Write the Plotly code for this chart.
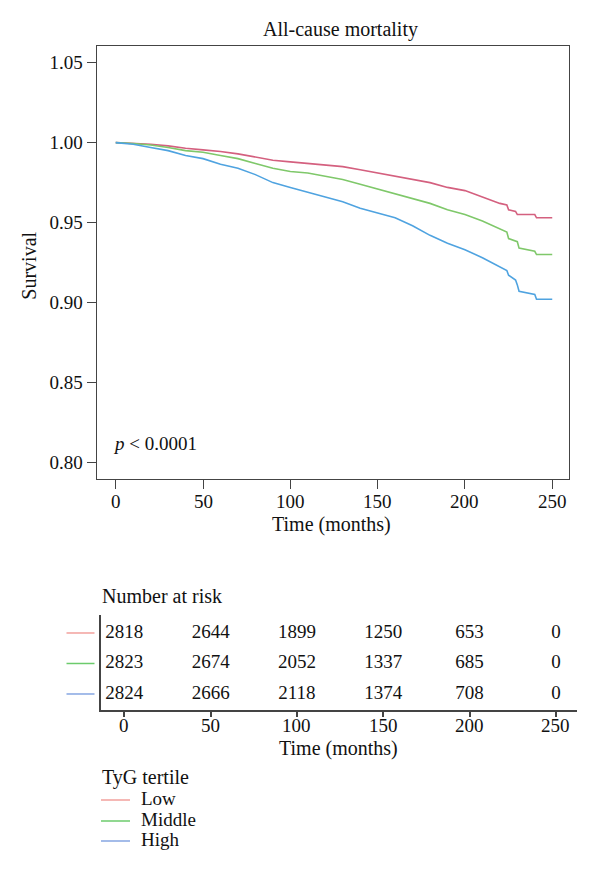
import plotly.graph_objects as go

# ---------------- data ----------------
groups = ["Low", "Middle", "High"]

t_low = [0, 10, 20, 30, 40, 50, 60, 70, 80, 90, 100, 110, 120, 130, 140, 150, 160, 170, 180, 190,
         200, 210, 220, 224, 225, 229, 230, 240, 241, 250]
s_low = [1.000, 0.9995, 0.999, 0.998, 0.9965, 0.9955, 0.9945, 0.993, 0.991, 0.989, 0.988, 0.987,
         0.986, 0.985, 0.983, 0.981, 0.979, 0.977, 0.975, 0.972, 0.970, 0.966, 0.962, 0.961, 0.958,
         0.957, 0.955, 0.955, 0.953, 0.953]

t_mid = [0, 10, 20, 30, 40, 50, 60, 70, 80, 90, 100, 110, 120, 130, 140, 150, 160, 170, 180, 190,
         200, 210, 220, 224, 225, 230, 231, 240, 241, 250]
s_mid = [1.000, 0.9995, 0.9985, 0.997, 0.995, 0.994, 0.992, 0.990, 0.987, 0.984, 0.982, 0.981,
         0.979, 0.977, 0.974, 0.971, 0.968, 0.965, 0.962, 0.958, 0.955, 0.951, 0.946, 0.944, 0.940,
         0.938, 0.934, 0.932, 0.930, 0.930]

t_high = [0, 10, 20, 30, 40, 50, 60, 70, 80, 90, 100, 110, 120, 130, 140, 150, 160, 170, 180, 190,
          200, 210, 220, 224, 225, 229, 230, 231, 240, 241, 250]
s_high = [1.000, 0.999, 0.997, 0.995, 0.992, 0.990, 0.9865, 0.984, 0.980, 0.975, 0.972, 0.969,
          0.966, 0.963, 0.959, 0.956, 0.953, 0.948, 0.942, 0.937, 0.933, 0.928, 0.922, 0.920, 0.917,
          0.914, 0.911, 0.907, 0.905, 0.902, 0.902]

risk_times = [0, 50, 100, 150, 200, 250]
risk_low = [2818, 2644, 1899, 1250, 653, 0]
risk_mid = [2823, 2674, 2052, 1337, 685, 0]
risk_high = [2824, 2666, 2118, 1374, 708, 0]

y_ticks = [0.80, 0.85, 0.90, 0.95, 1.00, 1.05]
x_ticks = [0, 50, 100, 150, 200, 250]
x_tick_labels = ["0", "50", "100", "150", "200", "250"]

curve_colors = ["#D4607F", "#7FC86A", "#4FA3E0"]
key_colors = ["#F2A09C", "#6CCB6C", "#86A6E2"]

W, H = 600, 871
FONT = "Liberation Serif, Times New Roman, serif"
TICK = 19
LAB = 20


def px(x):
    return x / W


def py(y):
    return 1 - y / H


fig = go.Figure()

for t, s, c, name in zip([t_low, t_mid, t_high], [s_low, s_mid, s_high], curve_colors, groups):
    fig.add_trace(go.Scatter(x=t, y=s, mode="lines", line=dict(color=c, width=1.6),
                             name=name, showlegend=False, xaxis="x", yaxis="y"))

# risk table
rows = [3, 2, 1]
for vals, r in zip([risk_low, risk_mid, risk_high], rows):
    fig.add_trace(go.Scatter(x=risk_times, y=[r] * len(risk_times), mode="text",
                             text=[str(v) for v in vals], textposition="middle center",
                             textfont=dict(family=FONT, size=TICK, color="#111"),
                             showlegend=False, xaxis="x2", yaxis="y2", hoverinfo="skip"))

axis_line = "#444"
fig.update_layout(
    width=W, height=H, margin=dict(l=0, r=0, t=0, b=0),
    paper_bgcolor="white", plot_bgcolor="white",
    font=dict(family=FONT, size=TICK, color="#111"),
    xaxis=dict(domain=[px(96.7), px(569)], range=[-10.9, 259.6], tickvals=x_ticks,
               showticklabels=False,
               ticks="outside", ticklen=9, tickcolor=axis_line, showline=True, mirror=True,
               linecolor=axis_line, linewidth=1.2, showgrid=False, zeroline=False, anchor="y"),
    yaxis=dict(domain=[py(479), py(46)], range=[0.7895, 1.0605], tickvals=y_ticks,
               tickformat=".2f", ticks="outside", ticklen=9, tickcolor=axis_line,
               showline=True, mirror=True, linecolor=axis_line, linewidth=1.2,
               showgrid=False, zeroline=False, tickfont=dict(size=TICK), anchor="x"),
    xaxis2=dict(domain=[px(101), px(577)], range=[-13.5, 262.2], tickvals=x_ticks,
                showticklabels=False,
                ticks="outside", ticklen=5, tickcolor=axis_line, tickwidth=1.5, showline=True,
                linecolor=axis_line, linewidth=1.8, showgrid=False, zeroline=False, anchor="y2"),
    yaxis2=dict(domain=[py(710), py(615)], range=[0.475, 3.59], showticklabels=False,
                ticks="", showline=True, linecolor=axis_line, linewidth=1.8,
                showgrid=False, zeroline=False, anchor="x2"),
)

ann = []
# x tick labels placed at the axis tick values
for xv, lab in zip(x_ticks, x_tick_labels):
    ann.append(dict(text=lab, x=xv, xref="x", y=py(501), yref="paper", showarrow=False,
                    font=dict(size=TICK), xanchor="center", yanchor="middle"))
    ann.append(dict(text=lab, x=xv, xref="x2", y=py(725), yref="paper", showarrow=False,
                    font=dict(size=TICK), xanchor="center", yanchor="middle"))

ann.append(dict(text="All-cause mortality", x=px(340), y=py(29), xref="paper", yref="paper",
                showarrow=False, font=dict(size=LAB), xanchor="center", yanchor="middle"))
ann.append(dict(text="Survival", x=px(28.7), y=py(266), xref="paper", yref="paper", textangle=-90,
                showarrow=False, font=dict(size=LAB), xanchor="center", yanchor="middle"))
ann.append(dict(text="Time (months)", x=px(331), y=py(524), xref="paper", yref="paper",
                showarrow=False, font=dict(size=LAB), xanchor="center", yanchor="middle"))
ann.append(dict(text="<i>p</i> < 0.0001", x=px(111), y=py(443), xref="paper", yref="paper",
                showarrow=False, font=dict(size=TICK), xanchor="left", yanchor="middle"))
ann.append(dict(text="Number at risk", x=px(100), y=py(596), xref="paper", yref="paper",
                showarrow=False, font=dict(size=LAB), xanchor="left", yanchor="middle"))
ann.append(dict(text="Time (months)", x=px(339), y=py(748), xref="paper", yref="paper",
                showarrow=False, font=dict(size=LAB), xanchor="center", yanchor="middle"))
ann.append(dict(text="TyG tertile", x=px(100), y=py(777), xref="paper", yref="paper",
                showarrow=False, font=dict(size=LAB), xanchor="left", yanchor="middle"))

shapes = []
for c, r in zip(key_colors, rows):
    shapes.append(dict(type="line", xref="paper", yref="y2", x0=px(66.5), x1=px(94.5), y0=r, y1=r,
                       line=dict(color=c, width=1.5)))

leg_y = [798, 819, 839]
for c, name, yy in zip(key_colors, groups, leg_y):
    shapes.append(dict(type="line", xref="paper", yref="paper", x0=px(101), x1=px(130),
                       y0=py(yy + 2), y1=py(yy + 2), line=dict(color=c, width=1.5)))
    ann.append(dict(text=name, x=px(139), y=py(yy), xref="paper", yref="paper",
                    showarrow=False, font=dict(size=19), xanchor="left", yanchor="middle"))

fig.update_layout(annotations=ann, shapes=shapes)
fig.write_html("out.html")
